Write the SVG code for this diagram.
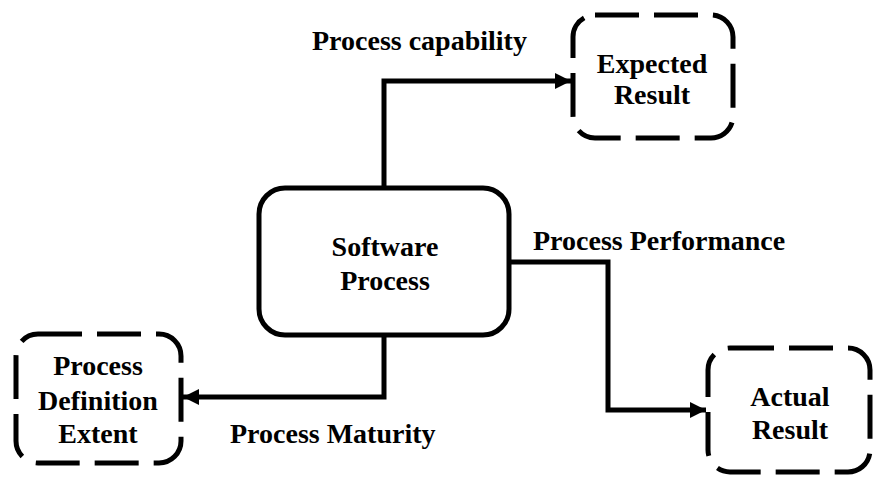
<svg xmlns="http://www.w3.org/2000/svg" width="873" height="477" viewBox="0 0 873 477">
  <style>
    .solid { fill: #fff; stroke: #000; stroke-width: 5; }
    .dashed { fill: #fff; stroke: #000; stroke-width: 5; stroke-dasharray: 44 15; }
    .lbl { font-family: "Liberation Serif", "Times New Roman", serif; font-weight: bold; font-size: 28px; fill: #000; }
    .node { text-anchor: middle; }
    .wire { fill: none; stroke: #000; stroke-width: 5; stroke-linejoin: miter; }
  </style>
  <defs>
    <marker id="arrow" viewBox="0 0 10 10" refX="10" refY="5" markerWidth="3.4" markerHeight="3.2" orient="auto" markerUnits="strokeWidth">
      <path d="M0,0 L10,5 L0,10 Z" fill="#000"/>
    </marker>
  </defs>
  <rect width="873" height="477" fill="#fff"/>

  <g id="connectors">
    <path class="wire" d="M384,188 V81 H571" marker-end="url(#arrow)"/>
    <path class="wire" d="M509,262 H608 V410 H706" marker-end="url(#arrow)"/>
    <path class="wire" d="M384,335 V397 H183" marker-end="url(#arrow)"/>
  </g>

  <g id="edge-labels">
    <text class="lbl" x="312" y="50">Process capability</text>
    <text class="lbl" x="533" y="250">Process Performance</text>
    <text class="lbl" x="230" y="443">Process Maturity</text>
  </g>

  <g id="software-process">
    <rect class="solid" x="259" y="188" width="250" height="147" rx="26"/>
    <text class="lbl node" x="385" y="256">Software</text>
    <text class="lbl node" x="385" y="290">Process</text>
  </g>

  <g id="expected-result">
    <rect class="dashed" x="573" y="15" width="160" height="123" rx="22"/>
    <text class="lbl node" x="652" y="73">Expected</text>
    <text class="lbl node" x="652" y="104">Result</text>
  </g>

  <g id="process-definition-extent">
    <rect class="dashed" x="16" y="334" width="165" height="129" rx="22"/>
    <text class="lbl node" x="98" y="375">Process</text>
    <text class="lbl node" x="98" y="410">Definition</text>
    <text class="lbl node" x="98" y="443">Extent</text>
  </g>

  <g id="actual-result">
    <rect class="dashed" x="708" y="348" width="162" height="124" rx="22"/>
    <text class="lbl node" x="790" y="406">Actual</text>
    <text class="lbl node" x="790" y="439">Result</text>
  </g>
</svg>
